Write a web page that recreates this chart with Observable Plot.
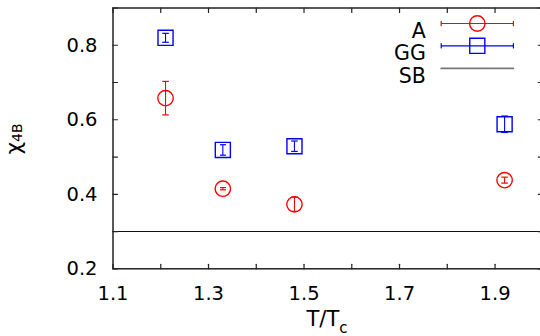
<!DOCTYPE html>
<html><head><meta charset="utf-8">
<script src="https://cdn.jsdelivr.net/npm/d3@7"></script>
<script src="https://cdn.jsdelivr.net/npm/@observablehq/plot@0.6"></script>
<style>body{margin:0;background:#fff} #chart svg{display:block}</style>
</head><body><div id="chart"></div>
<script>
// ---- data ----
const temps = [1.21, 1.33, 1.48, 1.92];
const chiA = [0.658, 0.415, 0.373, 0.438];
const errA = [0.045, 0.003, 0.019, 0.008];
const chiGG = [0.820, 0.519, 0.529, 0.588];
const errGG = [0.012, 0.014, 0.014, 0.022];
const sbValue = [0.3];
const seriesNames = ["A", "GG", "SB"];
const xTicks = [1.1, 1.2, 1.3, 1.4, 1.5, 1.6, 1.7, 1.8, 1.9, 2.0];
const xTickLabels = [1.1, 1.3, 1.5, 1.7, 1.9];
const yTicks = [0.2, 0.3, 0.4, 0.5, 0.6, 0.7, 0.8, 0.9];
const yTickLabels = [0.2, 0.4, 0.6, 0.8];

// ---- build ----
const rowsA = temps.map((t, i) => ({t, v: chiA[i], e: errA[i]}));
const rowsGG = temps.map((t, i) => ({t, v: chiGG[i], e: errGG[i]}));

const tickShape = {draw(ctx, l) { ctx.moveTo(0, 0); ctx.lineTo(0, -l); }};
const barShape = {draw(ctx, l, r) {
  ctx.moveTo(0, 0); ctx.lineTo(0, -l);
  ctx.moveTo(-r, 0); ctx.lineTo(r, 0);
  ctx.moveTo(-r, -l); ctx.lineTo(r, -l);
}};

const TL = 4.5; // tick length
const frameColor = "#222";
const legend = [
  {name: seriesNames[0], color: "#ff0000", symbol: "circle", r: 7.7, dy: 15.5},
  {name: seriesNames[1], color: "#0000ff", symbol: "square", r: 8.5, dy: 37.8},
  {name: seriesNames[2], color: "#777", symbol: null, r: 0, dy: 60.4}
];
const legMarks = [];
for (const L of legend) {
  legMarks.push(Plot.text([L.name], {x: null, y: null, text: d => d, frameAnchor: "top-right", dx: -117, dy: L.dy, textAnchor: "end", fill: "#000", fontSize: 20.5}));
  legMarks.push(Plot.vector([0], {x: null, y: null, frameAnchor: "top-right", dx: -65.5, dy: L.dy, rotate: 90, length: 72.2, anchor: "middle",
    shape: L.symbol ? barShape : tickShape, r: 2.2, stroke: L.color, strokeWidth: L.symbol ? 1.2 : 1.8}));
  if (L.symbol) legMarks.push(Plot.dot([0], {x: null, y: null, frameAnchor: "top-right", dx: -65.5, dy: L.dy, r: L.r, symbol: L.symbol, stroke: L.color, strokeWidth: 1.4, fill: "none"}));
}

const chart = Plot.plot({
  width: 540, height: 336,
  marginLeft: 112.5, marginTop: 7.5, marginBottom: 67.7, marginRight: -2.3,
  style: {fontFamily: "'DejaVu Sans', sans-serif", fontSize: "19.5px", background: "#fff", color: "#000"},
  x: {domain: [1.1, 2.0]},
  y: {domain: [0.2, 0.9]},
  marks: [
    Plot.ruleY(sbValue, {stroke: "#111", strokeWidth: 1.1}),
    Plot.link(rowsA, {x1: "t", x2: "t", y1: d => d.v - d.e, y2: d => d.v + d.e, stroke: "#ff0000", strokeWidth: 1.1, marker: "tick"}),
    Plot.dot(rowsA, {x: "t", y: "v", r: 7.7, symbol: "circle", stroke: "#ff0000", strokeWidth: 1.4, fill: "none"}),
    Plot.link(rowsGG, {x1: "t", x2: "t", y1: d => d.v - d.e, y2: d => d.v + d.e, stroke: "#0000ff", strokeWidth: 1.1, marker: "tick"}),
    Plot.dot(rowsGG, {x: "t", y: "v", r: 8.5, symbol: "square", stroke: "#0000ff", strokeWidth: 1.4, fill: "none"}),
    Plot.frame({stroke: frameColor, strokeWidth: 1.5}),
    Plot.vector(xTicks, {x: d => d, y: null, frameAnchor: "bottom", rotate: 0, length: TL, anchor: "start", shape: tickShape, stroke: frameColor, strokeWidth: 1.2}),
    Plot.vector(xTicks, {x: d => d, y: null, frameAnchor: "top", rotate: 180, length: TL, anchor: "start", shape: tickShape, stroke: frameColor, strokeWidth: 1.2}),
    Plot.vector(yTicks, {x: null, y: d => d, frameAnchor: "left", rotate: 90, length: TL, anchor: "start", shape: tickShape, stroke: frameColor, strokeWidth: 1.2}),
    Plot.vector(yTicks, {x: null, y: d => d, frameAnchor: "right", rotate: -90, length: TL, anchor: "start", shape: tickShape, stroke: frameColor, strokeWidth: 1.2}),
    Plot.axisX(xTickLabels, {tickSize: 0, tickPadding: 17, tickFormat: d3.format(".1f"), label: null, fill: "#000"}),
    Plot.axisY(yTickLabels, {tickSize: 0, tickPadding: 15.5, tickFormat: d3.format(".1f"), label: null, fill: "#000"}),
    ...legMarks
  ]
});
document.getElementById("chart").appendChild(chart);

// axis titles with subscripts
const svg = d3.select(chart);
const yl = svg.append("text")
  .attr("transform", "translate(20.5,139) rotate(-90)")
  .attr("text-anchor", "middle").attr("fill", "#000")
  .style("font-family", "'DejaVu Sans', sans-serif");
yl.append("tspan").style("font-size", "22px").text("χ");
yl.append("tspan").style("font-size", "14px").attr("dy", 1).text("4B");
const xl = svg.append("text")
  .attr("transform", "translate(327,326)")
  .attr("text-anchor", "middle").attr("fill", "#000")
  .style("font-family", "'DejaVu Sans', sans-serif");
xl.append("tspan").style("font-size", "21px").text("T/T");
xl.append("tspan").style("font-size", "15px").attr("dy", 7).text("c");
</script>
</body></html>
